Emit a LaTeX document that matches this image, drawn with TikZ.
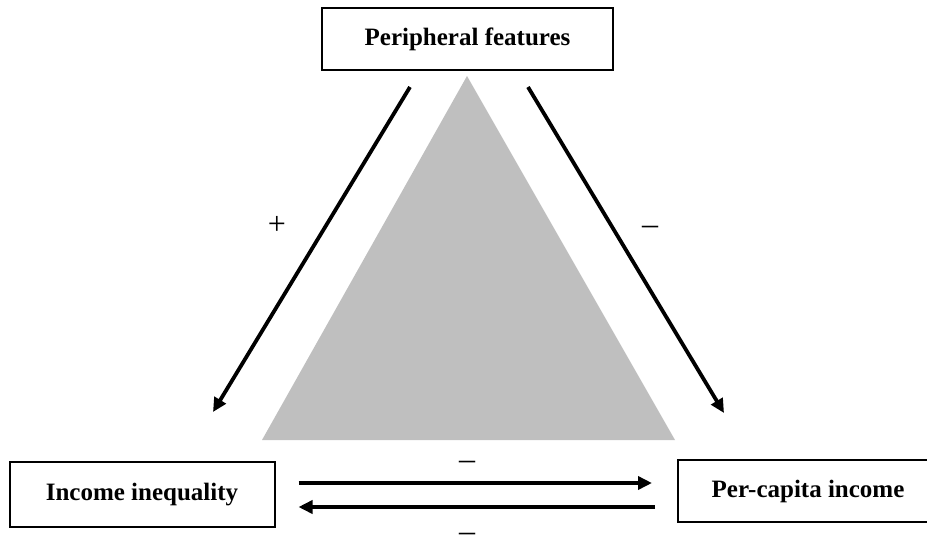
\documentclass[tikz,border=0pt]{standalone}
\usepackage{fontspec}
\setmainfont{Liberation Serif}
\usetikzlibrary{arrows.meta}
\begin{document}
\begin{tikzpicture}[x=1pt,y=-1pt,
  box/.style={draw, line width=2pt, inner sep=0pt, font=\bfseries\fontsize{25}{30}\selectfont},
  arr/.style={line width=3.8pt, -{Triangle[length=14pt,width=13pt]}},
  sign/.style={font=\fontsize{32}{36}\selectfont}]
\useasboundingbox (0,0) rectangle (927,547);
\fill[gray!50] (467,76) -- (262,440) -- (675,440) -- cycle;
\node[box, minimum width=291pt, minimum height=62pt] (pf) at (467.5,39) {Peripheral features};
\node[box, minimum width=265pt, minimum height=65pt] (ii) at (142,494.5) {Income inequality};
\node[box, minimum width=260pt, minimum height=62pt, anchor=west] (pc) at (677,491) {Per-capita income};
\coordinate (l1) at (410,87); \coordinate (l2) at (213,412);
\coordinate (r1) at (528,87); \coordinate (r2) at (724,413);
\draw[arr] (l1) -- (l2);
\draw[arr] (r1) -- (r2);
\draw[arr] ([xshift=23pt]ii.east |- 0,483) -- ([xshift=-25pt]pc.west |- 0,483);
\draw[arr] ([xshift=-22pt]pc.west |- 0,507) -- ([xshift=23pt]ii.east |- 0,507);
\node[sign] (plus) at (277,225) {+};
\node[sign] (m1) at (650,230) {--};
\node[sign] (m2) at (467,465) {--};
\node[sign] (m3) at (467,537) {--};
\end{tikzpicture}
\end{document}
